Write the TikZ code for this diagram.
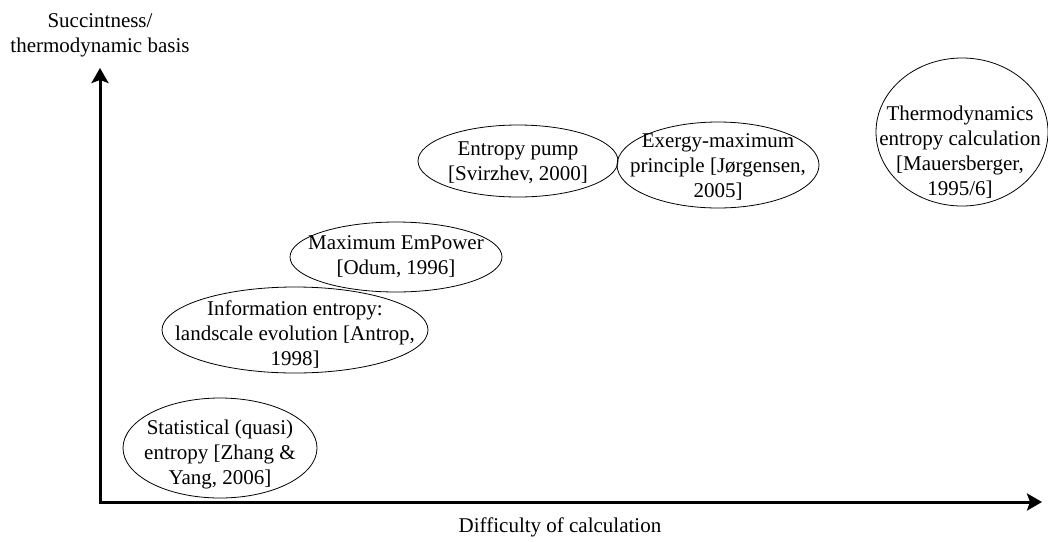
\documentclass[tikz,border=0pt]{standalone}
\usepackage{fontspec}
\setmainfont{Liberation Serif}
\usetikzlibrary{arrows.meta}

\begin{document}
\begin{tikzpicture}[x=1pt,y=-1pt,
    every node/.style={font=\fontsize{21}{25}\selectfont, align=center, inner sep=0pt},
    bubble/.style={line width=0.8pt},
    axis/.style={line width=3pt,
        {Stealth[length=15pt,width=17pt,inset=3pt]}-{Stealth[length=15pt,width=17pt,inset=3pt]}}]
    \useasboundingbox (0,0) rectangle (1048,541);

    % axes
    \coordinate (ytip) at (100,68);
    \coordinate (xtip) at (1042,502);
    \draw[axis] (ytip) |- (xtip);
    \node (ylab) at (100,35) {Succintness/\\thermodynamic basis};
    \node (xlab) at (560,527) {Difficulty of calculation};

    % methods
    \node (stat) at (220,454) {Statistical (quasi)\\entropy [Zhang \&\\Yang, 2006]};
    \draw[bubble] (220,448) ellipse [x radius=97pt, y radius=50pt];

    \node (info) at (295,335) {Information entropy:\\landscale evolution [Antrop,\\1998]};
    \draw[bubble] (295,330) ellipse [x radius=133pt, y radius=43pt];

    \node (odum) at (396,257) {Maximum EmPower\\{}[Odum, 1996]};
    \draw[bubble] (odum.center) ellipse [x radius=106pt, y radius=35pt];

    \node (pump) at (518,163) {Entropy pump\\{}[Svirzhev, 2000]};
    \draw[bubble] (518,161) ellipse [x radius=100pt, y radius=36pt];

    \node (exergy) at (718,167) {Exergy-maximum\\principle [Jørgensen,\\2005]};
    \draw[bubble] (718,165) ellipse [x radius=101pt, y radius=43pt];

    \node (thermo) at (960,152) {Thermodynamics\\entropy calculation\\{}[Mauersberger,\\1995/6]};
    \draw[bubble] (962,132) ellipse [x radius=86pt, y radius=74pt];
\end{tikzpicture}
\end{document}
